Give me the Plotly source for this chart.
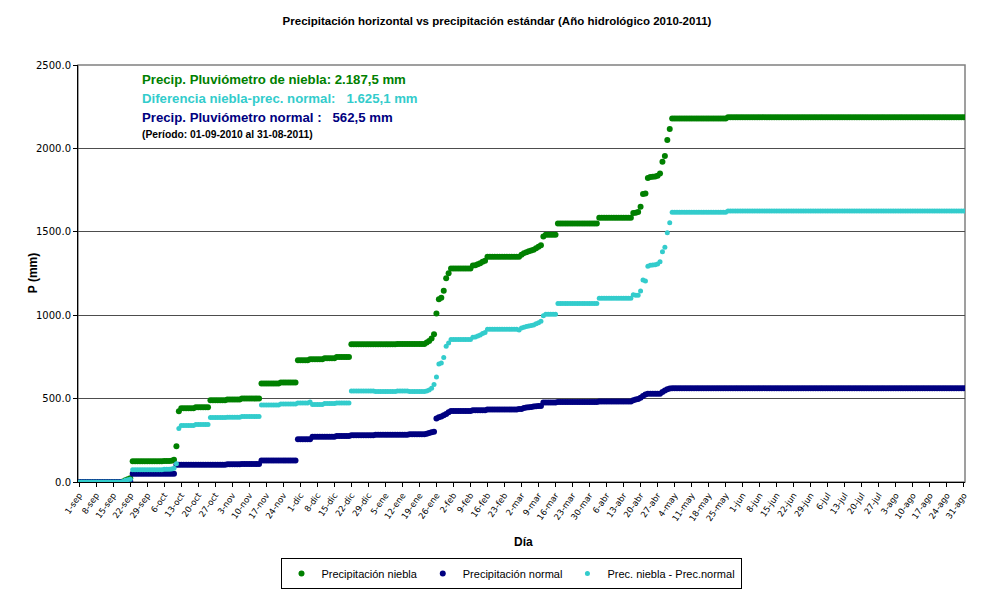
import plotly.graph_objects as go

# ---------------- DATA ----------------
# Day index 0 = 1-sep-2010 ... 364 = 31-ago-2011
dias = list(range(365))

tick_dias = list(range(0, 365, 7))
tick_labels = [
    "1-sep", "8-sep", "15-sep", "22-sep", "29-sep",
    "6-oct", "13-oct", "20-oct", "27-oct",
    "3-nov", "10-nov", "17-nov", "24-nov",
    "1-dic", "8-dic", "15-dic", "22-dic", "29-dic",
    "5-ene", "12-ene", "19-ene", "26-ene",
    "2-feb", "9-feb", "16-feb", "23-feb",
    "2-mar", "9-mar", "16-mar", "23-mar", "30-mar",
    "6-abr", "13-abr", "20-abr", "27-abr",
    "4-may", "11-may", "18-may", "25-may",
    "1-jun", "8-jun", "15-jun", "22-jun", "29-jun",
    "6-jul", "13-jul", "20-jul", "27-jul",
    "3-ago", "10-ago", "17-ago", "24-ago", "31-ago",
]

# Cumulative fog-gauge precipitation (mm)
precip_niebla = [
    # sep
    0, 0, 0, 0, 0, 0, 0, 0, 0, 0,
    0, 0, 0, 0, 0, 0, 0, 0, 3, 10,
    16, 22, 124, 124, 124, 124, 124, 124, 124, 124,
    # oct
    124, 124, 124, 124, 124, 126, 126, 126, 128, 133,
    214, 424, 442, 442, 442, 442, 442, 442, 448, 448,
    448, 448, 448, 448, 490, 490, 490, 490, 490, 490,
    490,
    # nov
    494, 494, 494, 494, 494, 494, 500, 500, 500, 500,
    500, 500, 500, 500, 590, 590, 590, 590, 590, 590,
    590, 590, 596, 596, 596, 596, 596, 596, 596, 730,
    # dic
    730, 730, 730, 730, 736, 736, 736, 736, 736, 736,
    742, 742, 742, 742, 742, 750, 750, 750, 750, 750,
    750, 826, 826, 826, 826, 826, 826, 826, 826, 826,
    826,
    # ene
    826, 826, 826, 826, 826, 826, 826, 826, 826, 828,
    828, 828, 828, 828, 828, 828, 828, 828, 828, 828,
    828, 836, 846, 860, 886, 1010, 1095, 1105, 1146, 1222,
    1252,
    # feb
    1280, 1280, 1280, 1280, 1280, 1280, 1280, 1280, 1280, 1298,
    1300, 1305, 1312, 1320, 1326, 1350, 1350, 1350, 1350, 1350,
    1350, 1350, 1350, 1350, 1350, 1350, 1350, 1350,
    # mar
    1350, 1362, 1372, 1378, 1383, 1388, 1393, 1402, 1410, 1420,
    1472, 1482, 1482, 1482, 1482, 1482, 1550, 1550, 1550, 1550,
    1550, 1550, 1550, 1550, 1550, 1550, 1550, 1550, 1550, 1550,
    1550,
    # abr
    1550, 1550, 1584, 1584, 1584, 1584, 1584, 1584, 1584, 1584,
    1584, 1584, 1584, 1584, 1584, 1584, 1612, 1614, 1618, 1650,
    1726, 1730, 1822, 1828, 1830, 1832, 1836, 1850, 1920, 1955,
    # may
    2050, 2116, 2180, 2180, 2180, 2180, 2180, 2180, 2180, 2180,
    2180, 2180, 2180, 2180, 2180, 2180, 2180, 2180, 2180, 2180,
    2180, 2180, 2180, 2180, 2180, 2187.5, 2187.5, 2187.5, 2187.5, 2187.5,
    2187.5,
    # jun
    2187.5, 2187.5, 2187.5, 2187.5, 2187.5, 2187.5, 2187.5, 2187.5, 2187.5, 2187.5,
    2187.5, 2187.5, 2187.5, 2187.5, 2187.5, 2187.5, 2187.5, 2187.5, 2187.5, 2187.5,
    2187.5, 2187.5, 2187.5, 2187.5, 2187.5, 2187.5, 2187.5, 2187.5, 2187.5, 2187.5,
    # jul
    2187.5, 2187.5, 2187.5, 2187.5, 2187.5, 2187.5, 2187.5, 2187.5, 2187.5, 2187.5,
    2187.5, 2187.5, 2187.5, 2187.5, 2187.5, 2187.5, 2187.5, 2187.5, 2187.5, 2187.5,
    2187.5, 2187.5, 2187.5, 2187.5, 2187.5, 2187.5, 2187.5, 2187.5, 2187.5, 2187.5,
    2187.5,
    # ago
    2187.5, 2187.5, 2187.5, 2187.5, 2187.5, 2187.5, 2187.5, 2187.5, 2187.5, 2187.5,
    2187.5, 2187.5, 2187.5, 2187.5, 2187.5, 2187.5, 2187.5, 2187.5, 2187.5, 2187.5,
    2187.5, 2187.5, 2187.5, 2187.5, 2187.5, 2187.5, 2187.5, 2187.5, 2187.5, 2187.5,
    2187.5,
]

# Cumulative standard-gauge precipitation (mm)
precip_normal = [
    # sep
    0, 0, 0, 0, 0, 0, 0, 0, 0, 0,
    0, 0, 0, 0, 0, 0, 0, 0, 0, 0,
    2, 5, 50, 50, 50, 50, 50, 50, 50, 50,
    # oct
    50, 50, 50, 50, 50, 50, 50, 50, 50, 50,
    104, 104, 104, 104, 104, 104, 104, 104, 104, 104,
    104, 104, 104, 104, 104, 104, 104, 104, 104, 104,
    104,
    # nov
    106, 106, 106, 106, 106, 106, 108, 108, 108, 108,
    108, 108, 108, 108, 129, 129, 129, 129, 129, 129,
    129, 129, 129, 129, 129, 129, 129, 129, 129, 256,
    # dic
    256, 256, 256, 256, 256, 272, 272, 272, 272, 272,
    272, 272, 272, 272, 272, 276, 276, 276, 276, 276,
    276, 280, 280, 280, 280, 280, 280, 280, 280, 280,
    280,
    # ene
    283, 283, 283, 283, 283, 283, 283, 283, 283, 283,
    283, 283, 283, 283, 286, 286, 286, 286, 286, 286,
    286, 290, 294, 298, 302, 380, 388, 392, 400, 408,
    418,
    # feb
    425, 425, 425, 425, 425, 425, 425, 425, 425, 430,
    430, 430, 430, 430, 430, 434, 434, 434, 434, 434,
    434, 434, 434, 434, 434, 434, 434, 434,
    # mar
    438, 438, 444, 446, 448, 450, 452, 454, 455, 456,
    476, 476, 476, 476, 476, 476, 480, 480, 480, 480,
    480, 480, 480, 480, 480, 480, 480, 480, 480, 480,
    480,
    # abr
    480, 480, 482, 482, 482, 482, 482, 482, 482, 482,
    482, 482, 482, 482, 482, 482, 490, 494, 498, 505,
    515, 525, 529, 529, 529, 529, 529, 529, 540, 548,
    # may
    556, 561, 562.5, 562.5, 562.5, 562.5, 562.5, 562.5, 562.5, 562.5,
    562.5, 562.5, 562.5, 562.5, 562.5, 562.5, 562.5, 562.5, 562.5, 562.5,
    562.5, 562.5, 562.5, 562.5, 562.5, 562.5, 562.5, 562.5, 562.5, 562.5,
    562.5,
    # jun
    562.5, 562.5, 562.5, 562.5, 562.5, 562.5, 562.5, 562.5, 562.5, 562.5,
    562.5, 562.5, 562.5, 562.5, 562.5, 562.5, 562.5, 562.5, 562.5, 562.5,
    562.5, 562.5, 562.5, 562.5, 562.5, 562.5, 562.5, 562.5, 562.5, 562.5,
    # jul
    562.5, 562.5, 562.5, 562.5, 562.5, 562.5, 562.5, 562.5, 562.5, 562.5,
    562.5, 562.5, 562.5, 562.5, 562.5, 562.5, 562.5, 562.5, 562.5, 562.5,
    562.5, 562.5, 562.5, 562.5, 562.5, 562.5, 562.5, 562.5, 562.5, 562.5,
    562.5,
    # ago
    562.5, 562.5, 562.5, 562.5, 562.5, 562.5, 562.5, 562.5, 562.5, 562.5,
    562.5, 562.5, 562.5, 562.5, 562.5, 562.5, 562.5, 562.5, 562.5, 562.5,
    562.5, 562.5, 562.5, 562.5, 562.5, 562.5, 562.5, 562.5, 562.5, 562.5,
    562.5,
]

# Difference series (fog gauge minus standard gauge)
diferencia = [round(a - b, 1) for a, b in zip(precip_niebla, precip_normal)]

# ---------------- FIGURE ----------------
GREEN = "#008000"
NAVY = "#000080"
CYAN = "#33CCCC"
SANS = "Liberation Sans, Arial, sans-serif"

fig = go.Figure()
fig.add_trace(go.Scatter(x=dias, y=precip_niebla, mode="markers",
                         name="Precipitación niebla",
                         marker=dict(color=GREEN, size=6, line=dict(width=0))))
fig.add_trace(go.Scatter(x=dias, y=precip_normal, mode="markers",
                         name="Precipitación normal",
                         marker=dict(color=NAVY, size=6, line=dict(width=0))))
fig.add_trace(go.Scatter(x=dias, y=diferencia, mode="markers",
                         name="Prec. niebla - Prec.normal",
                         marker=dict(color=CYAN, size=5, line=dict(width=0))))

fig.update_layout(
    width=994, height=595,
    margin=dict(l=78, r=29, t=65, b=113, autoexpand=False),
    paper_bgcolor="white", plot_bgcolor="white",
    title=dict(text="<b>Precipitación horizontal vs precipitación estándar (Año hidrológico 2010-2011)</b>",
               x=0.5, xref="container", xanchor="center",
               y=1 - 20.5 / 595, yref="container", yanchor="middle",
               font=dict(family=SANS, size=11.5, color="black")),
    showlegend=True,
    legend=dict(orientation="h", xref="container", x=511 / 994, xanchor="center",
                yref="container", y=1 - 573.5 / 595, yanchor="middle",
                bordercolor="black", borderwidth=1, bgcolor="white",
                font=dict(family=SANS, size=11, color="black"),
                itemsizing="trace", itemwidth=30, tracegroupgap=0),
    xaxis=dict(range=[-0.5, 364.5], tickmode="array", tickvals=tick_dias, ticktext=tick_labels,
               tickangle=-55, ticks="outside", ticklen=4, tickcolor="black",
               showline=True, linecolor="black", linewidth=1, showgrid=False, zeroline=False,
               automargin=False,
               tickfont=dict(family="DejaVu Sans", size=8.5, color="black")),
    yaxis=dict(range=[0, 2500], dtick=500, tickformat=".1f",
               ticks="outside", ticklen=4, tickcolor="black",
               showline=True, linecolor="black", linewidth=1,
               showgrid=True, gridcolor="#4d4d4d", gridwidth=1, zeroline=False,
               automargin=False,
               tickfont=dict(family="DejaVu Sans", size=10, color="black")),
)

# plot-area border (top/right grey)
fig.add_shape(type="rect", xref="paper", yref="paper", x0=0, y0=0, x1=1, y1=1,
              line=dict(color="#808080", width=1.5), layer="below")

ann = [
    ("<b>Precip. Pluviómetro de niebla: 2.187,5 mm</b>", GREEN, 13.2, 79),
    ("<b>Diferencia niebla-prec. normal:   1.625,1 mm</b>", CYAN, 13.2, 98),
    ("<b>Precip. Pluviómetro normal :   562,5 mm</b>", NAVY, 13.2, 117),
    ("<b>(Período: 01-09-2010 al 31-08-2011)</b>", "black", 10.3, 134.5),
]
for txt, col, sz, ypix in ann:
    fig.add_annotation(text=txt, xref="paper", yref="paper",
                       x=(140 - 78) / 887, y=(481.6 - ypix) / 416.6,
                       xanchor="left", yanchor="middle", showarrow=False,
                       font=dict(family=SANS, size=sz, color=col))

# axis titles
fig.add_annotation(text="<b>P (mm)</b>", xref="paper", yref="paper",
                   x=(33 - 78) / 887, y=(481.6 - 273) / 416.6, textangle=-90,
                   xanchor="center", yanchor="middle", showarrow=False,
                   font=dict(family=SANS, size=12, color="black"))
fig.add_annotation(text="<b>Día</b>", xref="paper", yref="paper",
                   x=(523 - 78) / 887, y=(481.6 - 542) / 416.6,
                   xanchor="center", yanchor="middle", showarrow=False,
                   font=dict(family=SANS, size=12, color="black"))

fig.write_html("out.html")
